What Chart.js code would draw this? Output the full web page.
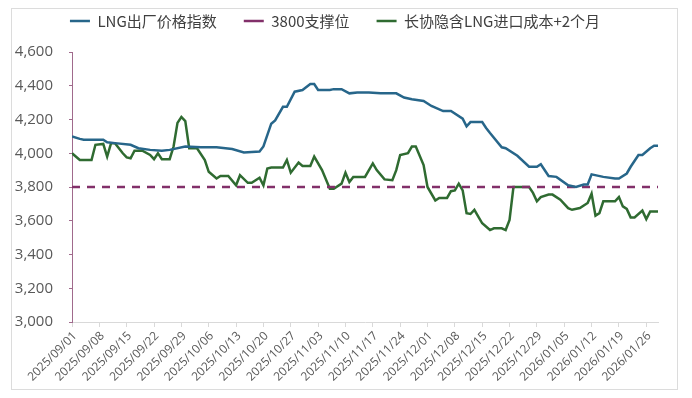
<!DOCTYPE html>
<html lang="zh">

<head>
   <meta charset="UTF-8">
   <title>LNG出厂价格指数</title>
   <script src="https://cdn.jsdelivr.net/npm/chart.js@4.4.1/dist/chart.umd.min.js"></script>
   <style>
      body { margin: 0; background: #fff; }
      .chart-box {
         position: absolute; left: 11px; top: 8px;
         width: 667px; height: 382px; box-sizing: border-box;
         border: 1px solid #dcdcdc;
      }
   </style>
</head>

<body>
   <div class="chart-box"><canvas id="myChart"></canvas></div>

   <script>
      // x = days since 2025/09/01
      const weekLabels = ['2025/09/01', '2025/09/08', '2025/09/15', '2025/09/22', '2025/09/29', '2025/10/06',
         '2025/10/13', '2025/10/20', '2025/10/27', '2025/11/03', '2025/11/10', '2025/11/17', '2025/11/24',
         '2025/12/01', '2025/12/08', '2025/12/15', '2025/12/22', '2025/12/29', '2026/01/05', '2026/01/12',
         '2026/01/19', '2026/01/26'];

      const indexDays = [0, 2, 3, 8, 9, 11, 15, 17, 20, 23, 25, 29, 33, 37, 41, 44, 48, 49, 51, 52,
         54, 55, 57, 59, 61, 62, 63, 66, 67, 69, 71, 73, 76, 79, 83, 85, 87, 90, 92, 95,
         97, 100, 101, 102, 105, 106, 107, 110, 111, 114, 117, 119, 120, 122, 124, 127, 129, 131, 132, 133,
         136, 139, 140, 142, 143, 145, 146, 148, 149, 150];
      const indexVals = [4100, 4085, 4080, 4080, 4065, 4060, 4050, 4030, 4020, 4015, 4020, 4040, 4035, 4035, 4025, 4005, 4010, 4040, 4175, 4195,
         4275, 4275, 4365, 4375, 4410, 4410, 4375, 4375, 4380, 4380, 4355, 4360, 4360, 4355, 4355, 4330, 4320, 4310, 4280, 4250,
         4250, 4205, 4160, 4185, 4185, 4150, 4120, 4035, 4030, 3985, 3920, 3920, 3935, 3865, 3860, 3810, 3800, 3815, 3815, 3875,
         3860, 3850, 3850, 3880, 3920, 3990, 3990, 4030, 4045, 4045];

      const costDays = [0, 2, 5, 6, 8, 9, 10, 11, 13, 14, 15, 16, 18, 20, 21, 22, 23, 25, 26, 27,
         28, 29, 30, 32, 34, 35, 37, 38, 40, 42, 43, 45, 46, 48, 49, 50, 51, 54, 55, 56,
         58, 59, 61, 62, 64, 66, 67, 69, 70, 71, 72, 75, 77, 78, 80, 82, 83, 84, 86, 87,
         88, 90, 91, 93, 94, 96, 97, 98, 99, 100, 101, 102, 103, 104, 105, 107, 108, 110, 111, 112,
         113, 117, 118, 119, 120, 122, 123, 125, 127, 128, 130, 132, 133, 134, 135, 136, 139, 140, 141, 142,
         143, 144, 146, 147, 148, 150];
      const costVals = [4000, 3960, 3960, 4050, 4055, 3980, 4060, 4060, 4000, 3975, 3970, 4015, 4015, 3990, 3965, 4000, 3965, 3965, 4040, 4180,
         4215, 4190, 4030, 4030, 3960, 3890, 3850, 3865, 3865, 3810, 3870, 3825, 3825, 3855, 3810, 3910, 3915, 3915, 3960, 3885,
         3945, 3925, 3925, 3980, 3900, 3790, 3790, 3820, 3885, 3830, 3860, 3860, 3940, 3900, 3845, 3840, 3900, 3990, 4000, 4040,
         4040, 3930, 3800, 3720, 3735, 3735, 3775, 3780, 3820, 3780, 3645, 3640, 3665, 3625, 3585, 3545, 3555, 3555, 3545, 3605,
         3800, 3800, 3765, 3715, 3740, 3755, 3755, 3725, 3675, 3665, 3675, 3705, 3760, 3630, 3645, 3715, 3715, 3740, 3685, 3670,
         3620, 3620, 3660, 3610, 3655, 3655];

      const supportDays = [0, 150];
      const supportVals = [3800, 3800];

      const yTicks = [3000, 3200, 3400, 3600, 3800, 4000, 4200, 4400, 4600];

      function toPoints(days, vals) {
         return days.map((d, i) => ({ x: d, y: vals[i] }));
      }

      const legendPad = 27;
      const legendFix = {
         id: 'legendFix',
         beforeInit(chart) {
            const origFit = chart.legend.fit;
            chart.legend.fit = function () {
               origFit.call(this);
               this.height = 43;
            };
         },
         beforeDraw(chart) {
            chart.legend.top = 4.5 - legendPad;
            chart.legend.bottom = 43;
         }
      };

      const tickColor = '#595959';

      const config = {
         type: 'line',
         data: {
            datasets: [
               {
                  label: 'LNG出厂价格指数',
                  data: toPoints(indexDays, indexVals),
                  borderColor: '#27668a',
                  borderWidth: 2.5,
                  pointRadius: 0,
                  pointStyle: 'line',
                  tension: 0
               },
               {
                  label: '3800支撑位',
                  data: toPoints(supportDays, supportVals),
                  borderColor: '#82306a',
                  borderWidth: 2.5,
                  borderDash: [8, 7],
                  pointRadius: 0,
                  pointStyle: 'line',
                  tension: 0
               },
               {
                  label: '长协隐含LNG进口成本+2个月',
                  data: toPoints(costDays, costVals),
                  borderColor: '#2f6b31',
                  borderWidth: 2.5,
                  pointRadius: 0,
                  pointStyle: 'line',
                  tension: 0
               }
            ]
         },
         options: {
            responsive: true,
            maintainAspectRatio: false,
            animation: false,
            layout: { padding: { left: 0, right: 19, top: 0, bottom: 0 } },
            plugins: {
               legend: {
                  position: 'top',
                  labels: {
                     usePointStyle: true,
                     pointStyleWidth: 20,
                     padding: legendPad,
                     color: '#404040',
                     font: { family: '"Noto Sans CJK SC", sans-serif', size: 15 }
                  }
               },
               tooltip: { enabled: false }
            },
            scales: {
               x: {
                  type: 'linear',
                  min: 0,
                  max: 150,
                  afterBuildTicks: axis => {
                     axis.ticks = weekLabels.map((_, i) => ({ value: i * 7 }));
                  },
                  afterFit: scale => { scale.height = 67; },
                  grid: { drawOnChartArea: false, tickLength: 5, color: '#d9d9d9' },
                  border: { color: '#d9d9d9', width: 1 },
                  ticks: {
                     autoSkip: false,
                     minRotation: 45,
                     maxRotation: 45,
                     padding: 2,
                     labelOffset: 3,
                     color: tickColor,
                     font: { family: '"Open Sans", sans-serif', size: 12 },
                     callback: v => weekLabels[v / 7] || ''
                  }
               },
               y: {
                  min: 3000,
                  max: 4600,
                  afterBuildTicks: axis => {
                     axis.ticks = yTicks.map(v => ({ value: v }));
                  },
                  afterFit: scale => { scale.width = 60; },
                  grid: { drawOnChartArea: false, tickLength: 3, color: '#a06a8c' },
                  border: { color: '#a06a8c', width: 1 },
                  ticks: {
                     padding: 16,
                     color: tickColor,
                     font: { family: '"Open Sans", sans-serif', size: 15 },
                     callback: v => v.toLocaleString('en-US')
                  }
               }
            }
         },
         plugins: [legendFix]
      };

      const ctx = document.getElementById('myChart').getContext('2d');
      const chart = new Chart(ctx, config);
   </script>
</body>

</html>
